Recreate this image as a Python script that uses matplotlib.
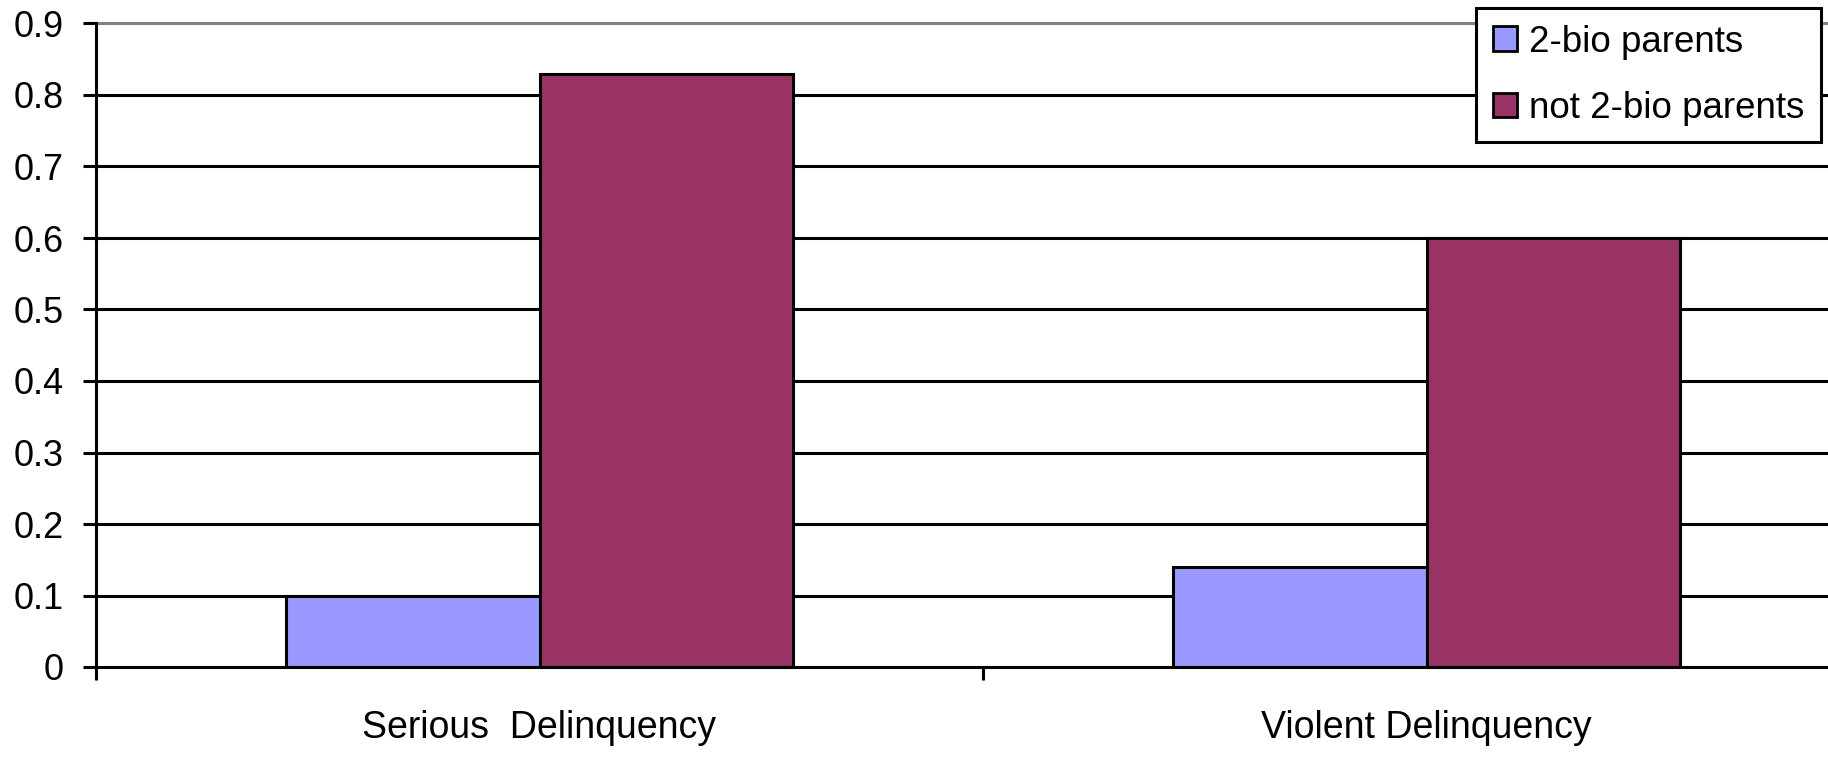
import matplotlib
matplotlib.use("Agg")
import matplotlib.pyplot as plt
import numpy as np

categories = ["Serious  Delinquency", "Violent Delinquency"]
series_names = ["2-bio parents", "not 2-bio parents"]
two_bio = [0.10, 0.14]
not_two_bio = [0.83, 0.60]
yticks = [0, 0.1, 0.2, 0.3, 0.4, 0.5, 0.6, 0.7, 0.8, 0.9]
ytick_labels = ["0", "0.1", "0.2", "0.3", "0.4", "0.5", "0.6", "0.7", "0.8", "0.9"]
colors = ["#9999FF", "#993366"]

plt.rcParams['font.family'] = ['Liberation Sans', 'DejaVu Sans']

W, H = 1828, 757
fig = plt.figure(figsize=(W / 100, H / 100), dpi=100)
ax = fig.add_axes([96 / W, 90 / H, 1774 / W, 643.5 / H])

x = np.arange(len(categories))
bw = 0.286
lw = 2.2
ax.bar(x - bw / 2, two_bio, bw, color=colors[0], edgecolor="black", linewidth=lw,
       label=series_names[0], zorder=3)
ax.bar(x + bw / 2, not_two_bio, bw, color=colors[1], edgecolor="black", linewidth=lw,
       label=series_names[1], zorder=3)

ax.set_xlim(-0.5, len(categories) - 0.5)
ax.set_ylim(0, 0.9)

# gridlines
for t in yticks[1:-1]:
    ax.axhline(t, color="black", linewidth=lw, zorder=1)
ax.axhline(0.9, color="#808080", linewidth=lw, zorder=1, clip_on=False)

ax.set_yticks(yticks)
ax.set_yticklabels(ytick_labels)
ax.tick_params(axis="y", direction="out", length=9.4, width=lw, pad=14, labelsize=26)

ax.set_xticks(np.arange(len(categories) + 1) - 0.5)
ax.set_xticklabels([])
ax.tick_params(axis="x", which="major", direction="out", length=9.4, width=lw)
ax.set_xticks(x, minor=True)
ax.set_xticklabels(categories, minor=True)
ax.tick_params(axis="x", which="minor", length=0, pad=31, labelsize=27)

for s in ["top", "right"]:
    ax.spines[s].set_visible(False)
for s in ["left", "bottom"]:
    ax.spines[s].set_linewidth(lw)
    ax.spines[s].set_color("black")
    ax.spines[s].set_zorder(4)

leg = ax.legend(loc="upper right", bbox_to_anchor=(1821 / W, 1 - 8 / H),
                bbox_transform=fig.transFigure, fontsize=26.5, frameon=True,
                fancybox=False, shadow=False, handlelength=0.65, handleheight=0.65,
                handletextpad=0.33, labelspacing=0.85, borderpad=0.45,
                borderaxespad=0)
leg.get_frame().set_edgecolor("black")
leg.get_frame().set_linewidth(lw)
leg.get_frame().set_alpha(1)
for h in leg.legend_handles:
    h.set_linewidth(2.0)

fig.savefig("out.png", dpi=100)
